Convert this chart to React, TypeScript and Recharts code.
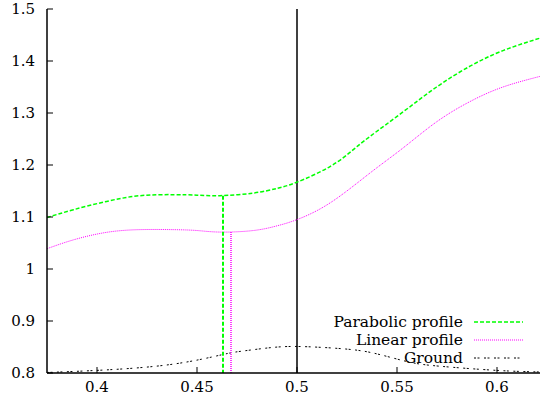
import React from 'react';
import { LineChart, Line, XAxis, YAxis, ReferenceLine } from 'recharts';

const xTicks = [0.4, 0.45, 0.5, 0.55, 0.6];
const yTicks = [0.8, 0.9, 1.0, 1.1, 1.2, 1.3, 1.4, 1.5];

const parabolicX = [0.375, 0.3882, 0.4048, 0.4215, 0.438, 0.45, 0.4615, 0.4782, 0.49, 0.5, 0.5165, 0.528, 0.5365, 0.553, 0.5698, 0.5865, 0.603, 0.6215];
const parabolicY = [1.099, 1.114, 1.130, 1.141, 1.143, 1.142, 1.141, 1.146, 1.155, 1.167, 1.197, 1.229, 1.255, 1.302, 1.350, 1.390, 1.420, 1.444];

const linearX = [0.375, 0.3882, 0.4048, 0.4215, 0.438, 0.45, 0.4615, 0.4782, 0.49, 0.5, 0.5165, 0.5365, 0.553, 0.5698, 0.5865, 0.603, 0.6215];
const linearY = [1.039, 1.056, 1.0705, 1.0757, 1.0757, 1.074, 1.071, 1.074, 1.083, 1.095, 1.127, 1.1846, 1.2327, 1.283, 1.322, 1.350, 1.3704];

const groundX = [0.375, 0.4048, 0.438, 0.4623, 0.4715, 0.485, 0.5, 0.5215, 0.538, 0.555, 0.5715, 0.6, 0.6215];
const groundY = [0.801, 0.806, 0.817, 0.835, 0.8415, 0.848, 0.851, 0.847, 0.8385, 0.822, 0.813, 0.805, 0.802];

const parabolicDropX = [0.463, 0.463];
const parabolicDropY = [1.141, 0.8];
const linearDropX = [0.467, 0.467];
const linearDropY = [1.071, 0.8];

const seriesNames = ['Parabolic profile', 'Linear profile', 'Ground'];
const seriesColors = ['#00ff00', '#ff00ff', '#000000'];
const seriesDash = ['4 2', '1 1', '2 1.5 2 4.5'];
const seriesWidth = [1.5, 1, 1];

const zip = (xs: number[], ys: number[]) => xs.map((x, i) => ({ x, y: ys[i] }));

const parabolic = zip(parabolicX, parabolicY);
const linear = zip(linearX, linearY);
const ground = zip(groundX, groundY);
const parabolicDrop = zip(parabolicDropX, parabolicDropY);
const linearDrop = zip(linearDropX, linearDropY);

const FONT = 'DejaVu Serif';

export default function App() {
  return (
    <div style={{ position: 'absolute', left: 0, top: 0, width: 540, height: 407, background: '#fff', fontFamily: FONT }}>
      <LineChart width={540} height={407} margin={{ top: 9, right: 0, left: 0, bottom: 0 }} style={{ fontFamily: FONT }}>
        <XAxis
          type="number"
          dataKey="x"
          domain={[0.375, 0.6215]}
          ticks={xTicks}
          allowDataOverflow
          height={34}
          axisLine={{ stroke: '#000', strokeWidth: 1.5 }}
          tickLine={{ stroke: '#000' }}
          tickSize={-6}
          tickMargin={14}
          tickFormatter={(v: number) => String(v)}
          tick={{ fontFamily: FONT, fontSize: 15, fill: '#000' }}
        />
        <XAxis
          xAxisId="top"
          orientation="top"
          type="number"
          dataKey="x"
          domain={[0.375, 0.6215]}
          ticks={xTicks}
          allowDataOverflow
          height={0}
          axisLine={{ stroke: '#000', strokeWidth: 1.5 }}
          tickLine={{ stroke: '#000' }}
          tickSize={-6}
          tickFormatter={() => ''}
        />
        <YAxis
          type="number"
          dataKey="y"
          domain={[0.8, 1.5]}
          ticks={yTicks}
          allowDataOverflow
          width={47}
          axisLine={{ stroke: '#000', strokeWidth: 1.5 }}
          tickLine={{ stroke: '#000' }}
          tickSize={-6}
          tickMargin={18}
          tickFormatter={(v: number) => String(v)}
          tick={{ fontFamily: FONT, fontSize: 15, fill: '#000' }}
        />
        <ReferenceLine x={0.5} stroke="#000" strokeWidth={1.5} />
        <Line data={ground} dataKey="y" type="natural" stroke={seriesColors[2]} strokeWidth={seriesWidth[2]} strokeDasharray={seriesDash[2]} dot={false} isAnimationActive={false} />
        <Line data={linear} dataKey="y" type="natural" stroke={seriesColors[1]} strokeWidth={seriesWidth[1]} strokeDasharray={seriesDash[1]} dot={false} isAnimationActive={false} />
        <Line data={linearDrop} dataKey="y" type="linear" stroke={seriesColors[1]} strokeWidth={1.5} strokeDasharray={seriesDash[1]} dot={false} isAnimationActive={false} />
        <Line data={parabolic} dataKey="y" type="natural" stroke={seriesColors[0]} strokeWidth={seriesWidth[0]} strokeDasharray={seriesDash[0]} dot={false} isAnimationActive={false} />
        <Line data={parabolicDrop} dataKey="y" type="linear" stroke={seriesColors[0]} strokeWidth={2} strokeDasharray={seriesDash[0]} dot={false} isAnimationActive={false} />
      </LineChart>
      <svg width={540} height={407} style={{ position: 'absolute', left: 0, top: 0, pointerEvents: 'none' }}>
        {seriesNames.map((name, i) => (
          <g key={name}>
            <text x={463} y={322 + i * 18} dy="0.35em" textAnchor="end" fontFamily={FONT} fontSize={15.5} fill="#000">
              {name}
            </text>
            <line x1={474} x2={523} y1={322 + i * 18} y2={322 + i * 18} stroke={seriesColors[i]} strokeWidth={seriesWidth[i]} strokeDasharray={seriesDash[i]} />
          </g>
        ))}
      </svg>
    </div>
  );
}
